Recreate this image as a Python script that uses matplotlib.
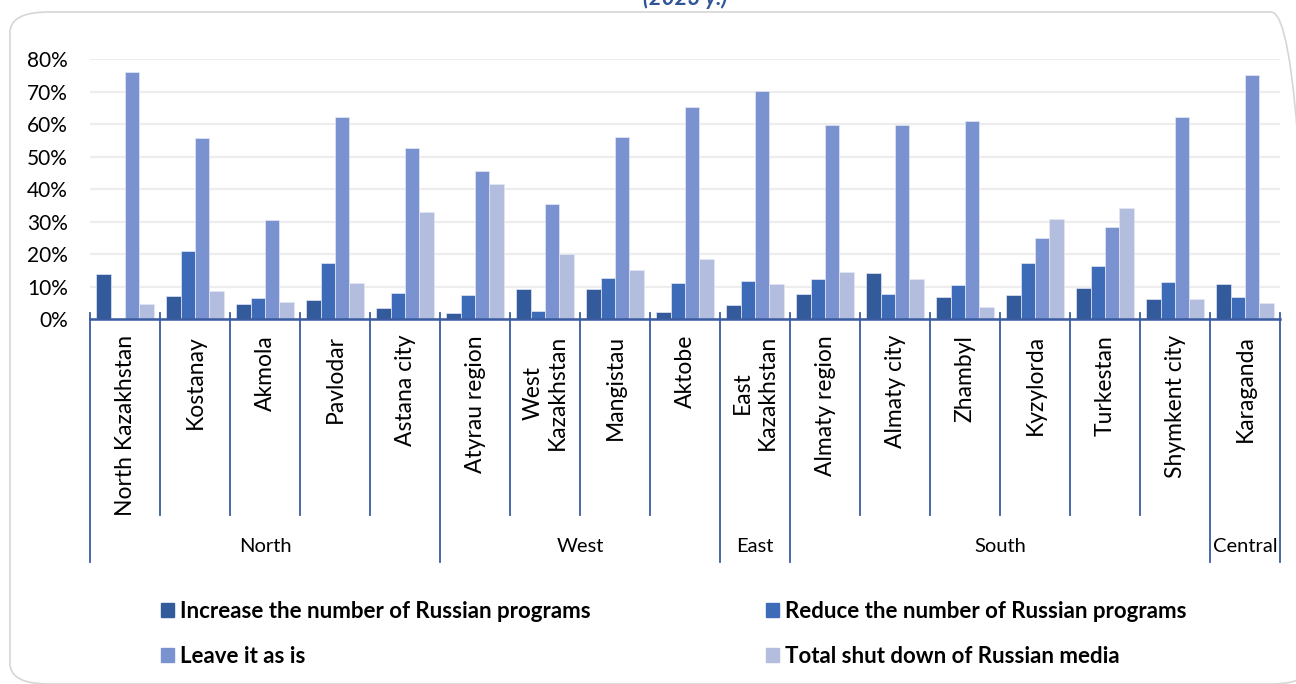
import numpy as np
import matplotlib.pyplot as plt
from matplotlib.patches import FancyBboxPatch, Patch

plt.rcParams['font.family'] = ['Lato', 'DejaVu Sans']

# Regiones y macro-regiones
regiones = ['North Kazakhstan', 'Kostanay', 'Akmola', 'Pavlodar', 'Astana city',
            'Atyrau region', 'West\nKazakhstan', 'Mangistau', 'Aktobe',
            'East\nKazakhstan',
            'Almaty region', 'Almaty city', 'Zhambyl', 'Kyzylorda', 'Turkestan',
            'Shymkent city',
            'Karaganda']
zonas = ['North', 'West', 'East', 'South', 'Central']
n_por_zona = [5, 4, 1, 6, 1]

# Respuestas (fraccion)
aumentar = [0.139, 0.072, 0.048, 0.059, 0.035,
            0.018, 0.094, 0.092, 0.023,
            0.045,
            0.077, 0.142, 0.069, 0.075, 0.096, 0.064,
            0.109]
reducir = [0.0, 0.210, 0.066, 0.173, 0.082,
           0.074, 0.025, 0.127, 0.113,
           0.118,
           0.124, 0.078, 0.106, 0.174, 0.163, 0.114,
           0.068]
dejar = [0.761, 0.557, 0.307, 0.623, 0.527,
         0.456, 0.354, 0.561, 0.652,
         0.703,
         0.599, 0.599, 0.610, 0.251, 0.284, 0.624,
         0.752]
cerrar = [0.047, 0.087, 0.053, 0.112, 0.329,
          0.416, 0.201, 0.152, 0.185,
          0.108,
          0.146, 0.125, 0.039, 0.308, 0.343, 0.063,
          0.050]

series = [aumentar, reducir, dejar, cerrar]
nombres = ['Increase the number of Russian programs',
           'Reduce the number of Russian programs',
           'Leave it as is',
           'Total shut down of Russian media']
colores = ['#335A9A', '#3E6BB8', '#7A93D0', '#B3BEDF']
azul_eje = '#3B5CA0'

fig = plt.figure(figsize=(12.96, 6.84), dpi=100)
ax = fig.add_axes([90 / 1296, 1 - 319.3 / 684, 1190 / 1296, 260 / 684])

x = np.arange(len(regiones))
w = 0.207
for k, (vals, col) in enumerate(zip(series, colores)):
    ax.bar(x + (k - 1.5) * w, vals, width=w, color=col,
           edgecolor='#E4E8F4', linewidth=0.5, zorder=3)

ax.set_xlim(-0.5, len(regiones) - 0.5)
ax.set_ylim(0, 0.8)
ax.set_yticks(np.arange(0, 0.81, 0.1))
ax.set_yticklabels([f'{int(round(v * 100))}%' for v in np.arange(0, 0.81, 0.1)])
ax.tick_params(axis='y', length=0, pad=16, labelsize=15)
ax.set_xticks([])
ax.grid(axis='y', color='#EDEDED', linewidth=1.6, zorder=0)
for s in ['top', 'right', 'left']:
    ax.spines[s].set_visible(False)
ax.spines['bottom'].set_color(azul_eje)
ax.spines['bottom'].set_linewidth(1.8)
ax.spines['bottom'].set_zorder(4)

# Eje de categorias en dos niveles
tr = ax.get_xaxis_transform()
for i, nombre in enumerate(regiones):
    ax.text(i, -0.06, nombre, transform=tr, rotation=90, ha='center', va='top',
            multialignment='center', fontsize=16.5, linespacing=1.2)

bordes_zona = np.concatenate([[0], np.cumsum(n_por_zona)]) - 0.5
for b in np.arange(-0.5, len(regiones)):
    fondo = -0.933 if np.isclose(bordes_zona, b).any() else -0.753
    ax.plot([b, b], [0.025, fondo], transform=tr, color=azul_eje,
            linewidth=1.3, clip_on=False, zorder=4)

for z, a, b in zip(zonas, bordes_zona[:-1], bordes_zona[1:]):
    ax.text((a + b) / 2, -0.872, z, transform=tr, ha='center', va='center',
            fontsize=14.5)

# Leyenda (orden por columnas)
orden = [0, 2, 1, 3]
handles = [Patch(color=colores[k]) for k in orden]
fig.legend(handles, [nombres[k] for k in orden], ncol=2, frameon=False,
           loc='center left', bbox_to_anchor=(141 / 1296, 1 - 634 / 684),
           prop={'weight': 'bold', 'size': 16}, handlelength=0.6,
           handleheight=0.6, handletextpad=0.25, columnspacing=7.9,
           labelspacing=1.08)

# Marco redondeado y titulo
marco = FancyBboxPatch((10 / 1296, 0.0), 1300 / 1296, 1 - 12 / 684 - 0.0,
                       boxstyle='round,pad=0,rounding_size=0.03',
                       transform=fig.transFigure, facecolor='none',
                       edgecolor='#D6D6D6', linewidth=1.2, clip_on=False)
fig.patches.append(marco)
fig.text(685 / 1296, 1 - 5 / 684, '(2023 y.)', ha='center', va='baseline',
         fontsize=16, fontweight='bold', style='italic', color='#2F5597')

plt.savefig('out.png', dpi=100)
